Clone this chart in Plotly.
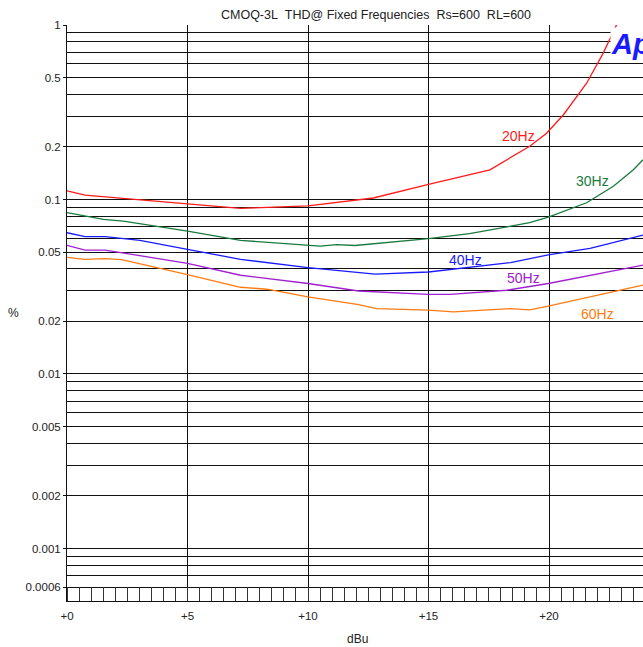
import math
import plotly.graph_objects as go

# ---- data ----
x_20 = [0, 0.75, 5, 7.2, 10, 12.1, 12.71, 15, 17.55, 19.2, 19.9, 20.6, 21.56, 22.25, 22.8, 23.3]
y_20 = [0.112, 0.106, 0.0945, 0.089, 0.092, 0.0996, 0.102, 0.122, 0.148, 0.202, 0.24, 0.306, 0.464, 0.69, 1.0, 1.4]

x_30 = [0, 1.51, 2.34, 5, 7.2, 10, 10.5, 11.19, 11.95, 15, 16.7, 19.2, 19.97, 21.56, 22.67, 23.5, 23.9]
y_30 = [0.084, 0.0769, 0.0751, 0.0659, 0.0583, 0.0546, 0.0541, 0.0551, 0.0545, 0.0596, 0.0637, 0.0736, 0.0792, 0.0958, 0.119, 0.148, 0.169]

x_40 = [0, 0.75, 1.58, 3.03, 5, 7.2, 10, 11.33, 12.78, 15, 18.4, 19.97, 21.7, 23.9]
y_40 = [0.0645, 0.0612, 0.0612, 0.0583, 0.0518, 0.0454, 0.0407, 0.0389, 0.0373, 0.0384, 0.0435, 0.0481, 0.0525, 0.0625]

x_50 = [0, 0.75, 1.58, 5, 7.2, 10, 12.1, 15, 15.9, 18.24, 19.97, 23.9]
y_50 = [0.0546, 0.0513, 0.0513, 0.0431, 0.0368, 0.033, 0.0299, 0.0286, 0.0286, 0.0302, 0.033, 0.0421]

x_60 = [0, 0.75, 1.58, 2.27, 5, 7.2, 8.3, 10, 12.1, 12.85, 15, 16.03, 18.4, 19.2, 19.97, 23.9]
y_60 = [0.0466, 0.0454, 0.0458, 0.0452, 0.0371, 0.0314, 0.0306, 0.0277, 0.025, 0.0237, 0.0232, 0.0227, 0.0237, 0.0233, 0.0245, 0.0323]

series_names = ["20Hz", "30Hz", "40Hz", "50Hz", "60Hz"]
series_colors = ["#ff1a1a", "#1a7a3e", "#1a1aff", "#a020d0", "#ff7a10"]
label_x = [18.73, 21.81, 16.54, 18.93, 22.01]
label_y = [0.230, 0.127, 0.0449, 0.0355, 0.0220]

y_major = [1, 0.5, 0.2, 0.1, 0.05, 0.02, 0.01, 0.005, 0.002, 0.001, 0.0006]
y_major_text = ["1", "0.5", "0.2", "0.1", "0.05", "0.02", "0.01", "0.005", "0.002", "0.001", "0.0006"]
y_minor = [0.9, 0.8, 0.7, 0.6, 0.4, 0.3,
           0.09, 0.08, 0.07, 0.06, 0.04, 0.03,
           0.009, 0.008, 0.007, 0.006, 0.004, 0.003,
           0.0009, 0.0008, 0.0007]
x_major = [0, 5, 10, 15, 20]
x_major_text = ["+0", "+5", "+10", "+15", "+20"]

FONT = "Liberation Sans, Arial, sans-serif"
W, H = 643, 647
L, R, T, B = 67, 0, 25, 46

fig = go.Figure()
xs = [x_20, x_30, x_40, x_50, x_60]
ys = [y_20, y_30, y_40, y_50, y_60]
for xv, yv, c in zip(xs, ys, series_colors):
    fig.add_trace(go.Scatter(x=xv, y=yv, mode="lines",
                             line=dict(color=c, width=1.3), showlegend=False,
                             hoverinfo="skip"))

for name, c, lx, ly in zip(series_names, series_colors, label_x, label_y):
    fig.add_annotation(x=lx, y=math.log10(ly), xref="x", yref="y", text=name, showarrow=False,
                       font=dict(family=FONT, size=14, color=c), xanchor="center", yanchor="middle")

# logo
fig.add_annotation(x=(610 - L) / (W - L - R), y=1 - (44 - T) / (H - T - B),
                   xref="paper", yref="paper", text="<b><i>Ap</i></b>", showarrow=False,
                   font=dict(family=FONT, size=29, color="#1a1aff"),
                   bgcolor="white", xanchor="left", yanchor="middle", borderpad=0)

# axis titles as annotations at fixed pixel positions
fig.add_annotation(x=(13 - L) / (W - L - R), y=1 - (313 - T) / (H - T - B),
                   xref="paper", yref="paper", text="%", showarrow=False,
                   font=dict(family=FONT, size=12, color="#222222"), xanchor="center", yanchor="middle")
fig.add_annotation(x=(357 - L) / (W - L - R), y=1 - (639 - T) / (H - T - B),
                   xref="paper", yref="paper", text="dBu", showarrow=False,
                   font=dict(family=FONT, size=12, color="#222222"), xanchor="center", yanchor="middle")

fig.update_layout(
    width=W, height=H,
    margin=dict(l=L, r=R, t=T, b=B, autoexpand=False),
    paper_bgcolor="white", plot_bgcolor="white",
    font=dict(family=FONT, size=11.5, color="#222222"),
    title=dict(text="CMOQ-3L\u00a0\u00a0THD@ Fixed Frequencies\u00a0\u00a0Rs=600\u00a0\u00a0RL=600",
               x=376 / W, xanchor="center", y=1 - 15 / H, yanchor="middle",
               font=dict(family=FONT, size=12.5, color="#222222"), automargin=False),
    xaxis=dict(range=[0, 23.9], tickvals=x_major, ticktext=x_major_text, automargin=False,
               showgrid=True, gridcolor="#111111", gridwidth=1,
               showline=True, linecolor="#111111", linewidth=1, mirror=False,
               ticks="", zeroline=False, ticklabelstandoff=4,
               minor=dict(dtick=0.5, ticks="inside", ticklen=14, tickcolor="#333333",
                          tickwidth=1, showgrid=False)),
    yaxis=dict(type="log", range=[math.log10(0.0005), 0], tickvals=y_major, ticktext=y_major_text,
               automargin=False,
               showgrid=True, gridcolor="#111111", gridwidth=1,
               showline=True, linecolor="#111111", linewidth=1,
               ticks="outside", ticklen=3, tickcolor="#111111", zeroline=False,
               minor=dict(tickvals=y_minor, showgrid=True, gridcolor="#111111", gridwidth=1, ticks="")),
)

fig.write_html("out.html", config={"displayModeBar": False},
               post_script="document.body.style.margin='0';document.body.style.overflow='hidden';")
